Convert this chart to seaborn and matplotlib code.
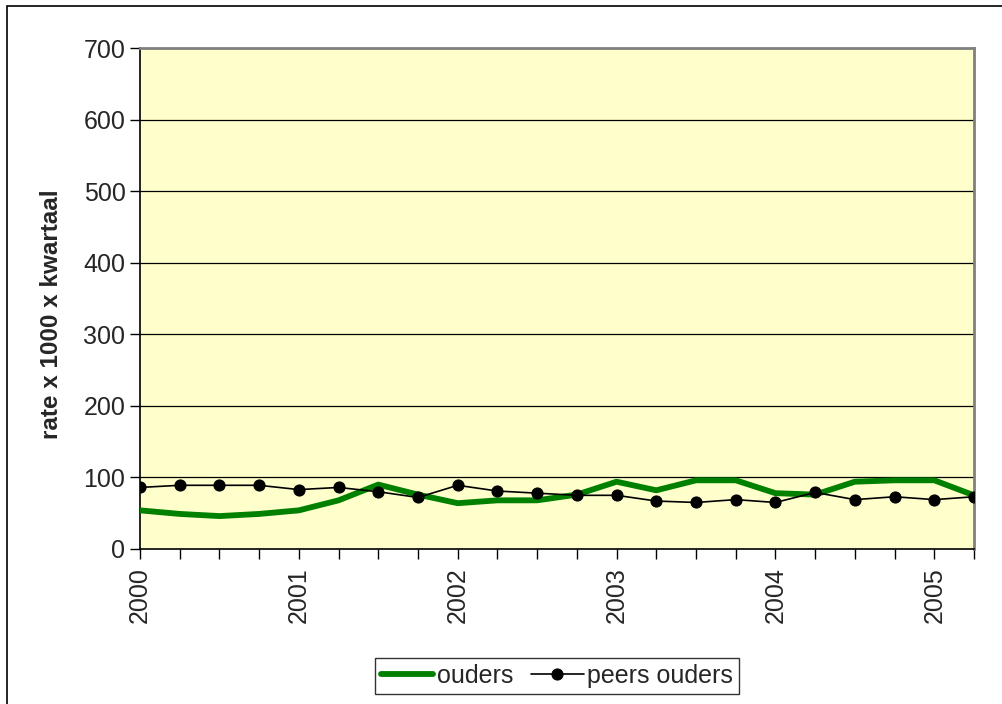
import numpy as np
import pandas as pd
import matplotlib
matplotlib.use("Agg")
import matplotlib.pyplot as plt
from matplotlib.patches import Rectangle
import seaborn as sns

# quarterly values 2000 Q1 - 2005 Q2
kwartaal = [2000 + k * 0.25 for k in range(22)]
ouders = [54, 49, 46, 49, 54, 68, 90, 76, 64, 68, 68, 76,
          94, 82, 96, 96, 78, 76, 94, 96, 96, 75]
peers_ouders = [86, 89, 89, 89, 83, 86, 80, 72, 89, 81, 78, 75,
                75, 67, 65, 69, 65, 79, 69, 73, 69, 73]
years = [2000, 2001, 2002, 2003, 2004, 2005]

df = pd.DataFrame({"kwartaal": kwartaal, "ouders": ouders, "peers ouders": peers_ouders})

sns.set_style("white")
plt.rcParams["font.family"] = ["Liberation Sans", "DejaVu Sans"]

fig = plt.figure(figsize=(10.02, 7.04), dpi=100)
ax = fig.add_axes([140 / 1002, 1 - 549 / 704, (974 - 140) / 1002, (549 - 48) / 704])
ax.set_facecolor("#FFFFCC")

# outer chart border
fig.patches.append(Rectangle((7 / 1002, -0.1), 1.2, 1 - 6 / 704 + 0.1,
                             transform=fig.transFigure, fill=False,
                             edgecolor="black", linewidth=1.2))

for y in range(100, 701, 100):
    ax.axhline(y, color="black", linewidth=0.9, zorder=1)

sns.lineplot(data=df, x="kwartaal", y="ouders", ax=ax, color="#008000",
             linewidth=4.2, label="ouders", zorder=3)
sns.lineplot(data=df, x="kwartaal", y="peers ouders", ax=ax, color="black",
             linewidth=1.2, marker="o", markersize=8, markeredgecolor="black",
             label="peers ouders", zorder=4)

ax.set_xlim(2000, 2005.25)
ax.set_ylim(0, 700)
ax.set_yticks(range(0, 701, 100))
ax.set_xticks(kwartaal)
ax.set_xticklabels([str(int(x)) if x in years else "" for x in kwartaal], rotation=90)
ax.tick_params(axis="both", labelsize=18, direction="out", length=7, width=1,
               color="black", left=True, bottom=True)
ax.tick_params(axis="x", pad=6)
ax.set_xlabel("")
ax.set_ylabel("rate x 1000 x kwartaal", fontsize=17.5, fontweight="bold")
ax.yaxis.set_label_coords(-0.092, 0.469)

for side in ["left", "bottom"]:
    ax.spines[side].set_color("black")
    ax.spines[side].set_linewidth(1.2)
for side in ["top", "right"]:
    ax.spines[side].set_color("#808080")
    ax.spines[side].set_linewidth(2)

ax.legend_.remove()
handles, labels = ax.get_legend_handles_labels()
leg = fig.legend(handles, labels, loc="center", bbox_to_anchor=(557 / 1002, 1 - 676 / 704),
                 ncol=2, fontsize=18, frameon=True, fancybox=False, handlelength=2.1,
                 handletextpad=0.15, columnspacing=0.7, borderpad=0.25, borderaxespad=0)
leg.get_frame().set_edgecolor("black")
leg.get_frame().set_linewidth(1)

fig.savefig("out.png", dpi=100)
